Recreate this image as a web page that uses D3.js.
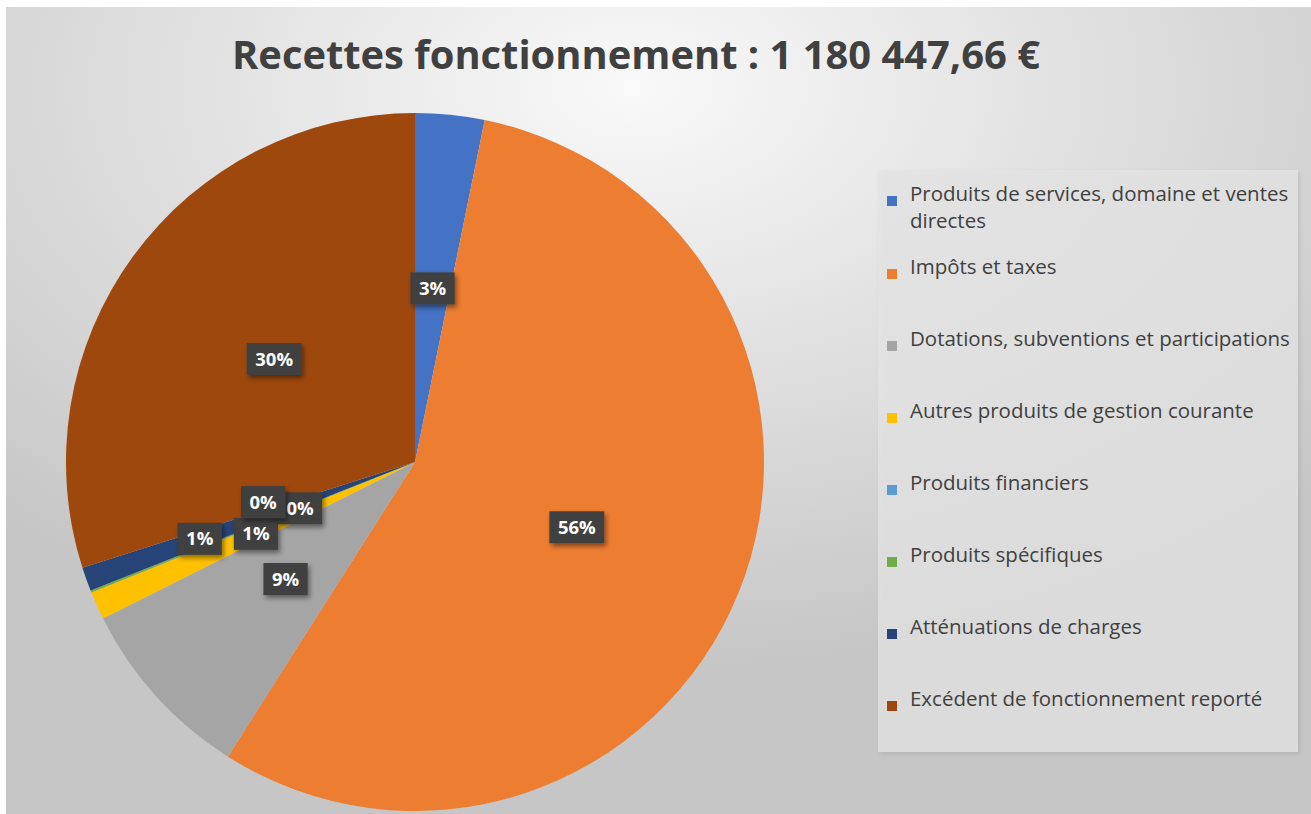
<!DOCTYPE html>
<html>
<head>
<meta charset="utf-8">
<script src="https://cdn.jsdelivr.net/npm/d3@7"></script>
<style>
  body { margin: 0; background: #fff; }
  svg { display: block; }
</style>
</head>
<body>
<svg id="chart" width="1311" height="814"></svg>
<script>
// data
var title = "Recettes fonctionnement : 1 180 447,66 €";
var categories = [
  "Produits de services, domaine et ventes directes",
  "Impôts et taxes",
  "Dotations, subventions et participations",
  "Autres produits de gestion courante",
  "Produits financiers",
  "Produits spécifiques",
  "Atténuations de charges",
  "Excédent de fonctionnement reporté"
];
var values = [37800, 658700, 101500, 15300, 47.66, 1100, 13000, 353000];
var colors = ["#4472C4", "#ED7D31", "#A5A5A5", "#FFC000", "#5B9BD5", "#70AD47", "#264478", "#9E480E"];

var W = 1311, H = 814;
var svg = d3.select("#chart");
var defs = svg.append("defs");

var grad = defs.append("radialGradient").attr("id", "bg")
  .attr("cx", "48%").attr("cy", "10%").attr("r", "72%");
grad.append("stop").attr("offset", "0%").attr("stop-color", "#f9f9f9");
grad.append("stop").attr("offset", "100%").attr("stop-color", "#c6c6c6");

var shadow = defs.append("filter").attr("id", "shadow")
  .attr("x", "-30%").attr("y", "-30%").attr("width", "170%").attr("height", "170%");
shadow.append("feDropShadow").attr("dx", 2).attr("dy", 3).attr("stdDeviation", 2.5)
  .attr("flood-color", "#000").attr("flood-opacity", 0.45);

var lshadow = defs.append("filter").attr("id", "lshadow")
  .attr("x", "-5%").attr("y", "-5%").attr("width", "110%").attr("height", "110%");
lshadow.append("feDropShadow").attr("dx", 2).attr("dy", 2).attr("stdDeviation", 2)
  .attr("flood-color", "#000").attr("flood-opacity", 0.12);

// chart area
svg.append("rect").attr("x", 6).attr("y", 7).attr("width", W - 6).attr("height", H - 7)
  .attr("fill", "url(#bg)");

// title
svg.append("text")
  .attr("x", 636).attr("y", 69)
  .attr("text-anchor", "middle")
  .attr("font-family", "'Open Sans', 'DejaVu Sans', sans-serif")
  .attr("font-weight", "bold")
  .attr("font-size", 39)
  .attr("fill", "#404040")
  .attr("textLength", 808)
  .attr("lengthAdjust", "spacingAndGlyphs")
  .text(title);

// pie
var cx = 415, cy = 462, R = 349;
var total = d3.sum(values);
var pie = d3.pie().sort(null).value(function(d) { return d; });
var arcs = pie(values);
var arc = d3.arc().innerRadius(0).outerRadius(R);

var g = svg.append("g").attr("transform", "translate(" + cx + "," + cy + ")");
g.selectAll("path")
  .data(arcs)
  .enter()
  .append("path")
  .attr("d", arc)
  .attr("fill", function(d, i) { return colors[i]; });

// data labels (best fit: move a label when it hits one already placed)
var fmt = d3.format(".0%");
var lg = g.append("g");
var placed = [];
var spots = [
  {r: 0.5, da: 0}, {r: 0.355, da: 0}, {r: 0.45, da: 7},
  {r: 0.655, da: 0}, {r: 0.3, da: 0}, {r: 0.8, da: 0}
];
var tol = 14;

arcs.forEach(function(d, i) {
  var txt = fmt(d.value / total);
  var lab = lg.append("g");
  var box = lab.append("rect").attr("fill", "#404040").attr("filter", "url(#shadow)");
  var t = lab.append("text")
    .attr("text-anchor", "middle")
    .attr("dy", "0.36em")
    .attr("font-family", "'Open Sans', 'DejaVu Sans', sans-serif")
    .attr("font-weight", "bold")
    .attr("font-size", 18.5)
    .attr("fill", "#fff")
    .text(txt);
  var bw = t.node().getComputedTextLength() + 17, bh = 32;
  box.attr("x", -bw / 2).attr("y", -bh / 2).attr("width", bw).attr("height", bh);

  var mid = (d.startAngle + d.endAngle) / 2;
  var pos = null;
  for (var k = 0; k < spots.length; k++) {
    var a = mid + spots[k].da * Math.PI / 180;
    var r = spots[k].r * R;
    var px = Math.sin(a) * r, py = -Math.cos(a) * r;
    var hit = placed.some(function(p) {
      return Math.abs(p.x - px) < (p.w + bw) / 2 - tol && Math.abs(p.y - py) < (p.h + bh) / 2 - tol;
    });
    if (!hit) { pos = {x: px, y: py}; break; }
  }
  if (!pos) pos = {x: Math.sin(mid) * R * 0.5, y: -Math.cos(mid) * R * 0.5};
  placed.push({x: pos.x, y: pos.y, w: bw, h: bh});
  lab.attr("transform", "translate(" + pos.x + "," + pos.y + ")");
});

// legend
var legX = 878, legY = 170, legW = 420, legH = 582;
svg.append("rect")
  .attr("x", legX).attr("y", legY).attr("width", legW).attr("height", legH)
  .attr("fill", "#e4e4e4").attr("fill-opacity", 0.75)
  .attr("filter", "url(#lshadow)");

var legend = svg.append("g").attr("transform", "translate(" + legX + "," + legY + ")");
var fontFam = "'Open Sans', 'Noto Sans', sans-serif";

// measure to match the reference's text width
var probe = legend.append("text").attr("font-family", fontFam).attr("font-size", 16)
  .text(categories[2]);
var fs = 16 * 380 / probe.node().getComputedTextLength();
probe.remove();

var maxW = 392;
categories.forEach(function(name, i) {
  var y = 31 + i * 72 + (i > 0 ? 1 : 0);
  var item = legend.append("g").attr("transform", "translate(0," + y + ")");
  item.append("rect").attr("x", 9).attr("y", -5).attr("width", 10).attr("height", 10)
    .attr("fill", colors[i]);
  var text = item.append("text")
    .attr("x", 32).attr("dy", "0.35em")
    .attr("font-family", fontFam)
    .attr("font-size", fs)
    .attr("fill", "#404040");
  // simple word wrap
  var words = name.split(" "), line = [];
  var tspan = text.append("tspan").attr("x", 32).attr("dy", 0);
  words.forEach(function(w) {
    line.push(w);
    tspan.text(line.join(" "));
    if (tspan.node().getComputedTextLength() > maxW && line.length > 1) {
      line.pop();
      tspan.text(line.join(" "));
      line = [w];
      tspan = text.append("tspan").attr("x", 32).attr("dy", 27).text(w);
    }
  });
});
</script>
</body>
</html>
